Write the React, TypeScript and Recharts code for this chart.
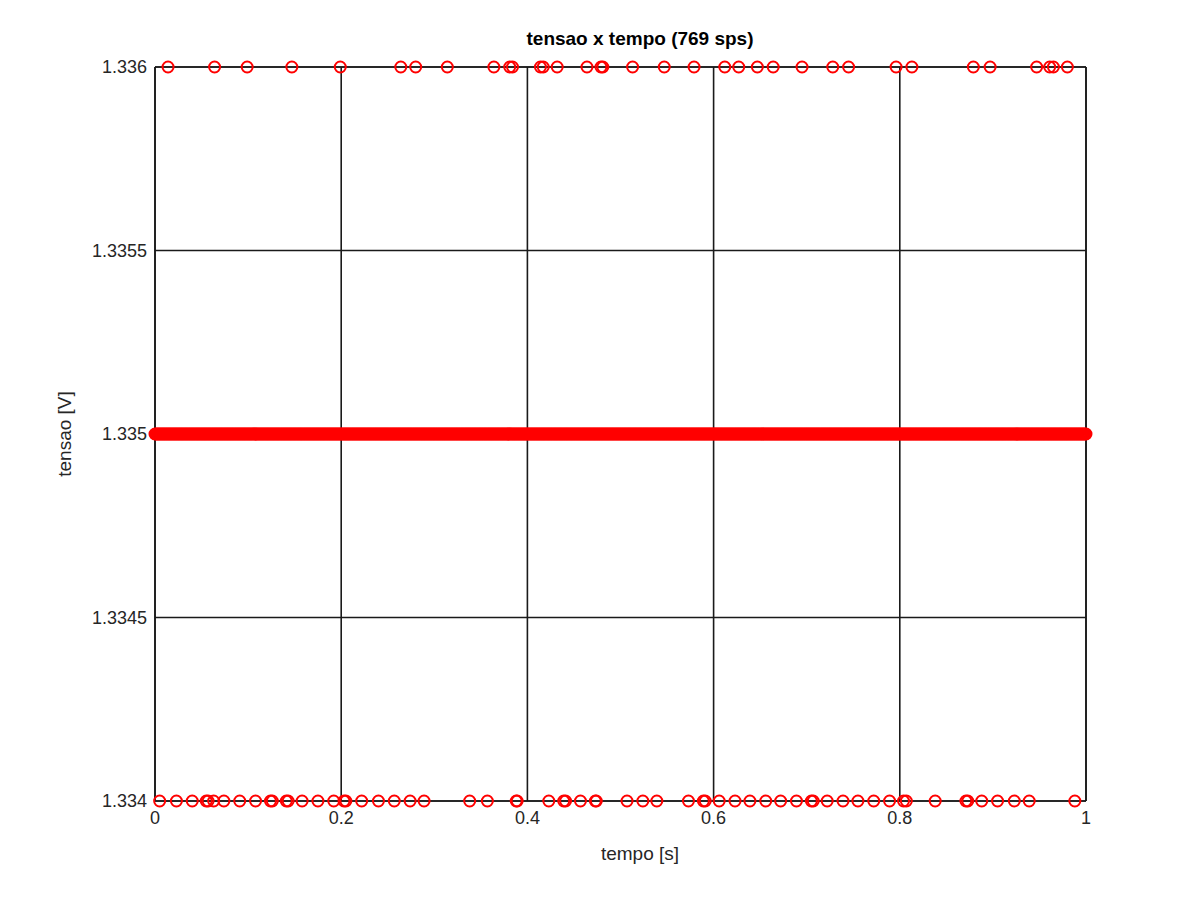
import { ScatterChart, Scatter, XAxis, YAxis, CartesianGrid, ReferenceLine } from 'recharts'

const SAMPLE_RATE = 769
const LEVEL_MID = 1.335
const LEVEL_HIGH = 1.336
const LEVEL_LOW = 1.334

// instants where the reading jumped to 1.336 V
const HIGH_TIMES = [
  0.014, 0.064, 0.099, 0.147, 0.199, 0.264, 0.28, 0.314, 0.364, 0.381, 0.384, 0.414, 0.417, 0.432,
  0.464, 0.479, 0.481, 0.513, 0.547, 0.579, 0.612, 0.627, 0.647, 0.664, 0.695, 0.728, 0.745, 0.796,
  0.813, 0.879, 0.897, 0.947, 0.961, 0.965, 0.98,
]
// instants where the reading dropped to 1.334 V
const LOW_TIMES = [
  0.005, 0.023, 0.04, 0.055, 0.057, 0.063, 0.074, 0.091, 0.108, 0.124, 0.126, 0.141, 0.143, 0.158,
  0.175, 0.192, 0.203, 0.205, 0.222, 0.24, 0.257, 0.274, 0.289, 0.338, 0.357, 0.388, 0.389, 0.423,
  0.439, 0.441, 0.457, 0.473, 0.474, 0.507, 0.524, 0.539, 0.573, 0.589, 0.591, 0.606, 0.623, 0.639,
  0.656, 0.672, 0.689, 0.705, 0.707, 0.722, 0.739, 0.755, 0.772, 0.789, 0.804, 0.807, 0.838, 0.871,
  0.873, 0.888, 0.905, 0.923, 0.939, 0.988,
]
const X_TICKS = [0, 0.2, 0.4, 0.6, 0.8, 1]
const Y_TICKS = [1.334, 1.3345, 1.335, 1.3355, 1.336]

// sample clock: one reading every 1/769 s
const sampleTimes = Array.from({ length: SAMPLE_RATE + 1 }, (_, i) => i / SAMPLE_RATE)

const midData = sampleTimes.map((t) => ({ t, v: LEVEL_MID }))
const highData = HIGH_TIMES.map((t) => ({ t, v: LEVEL_HIGH }))
const lowData = LOW_TIMES.map((t) => ({ t, v: LEVEL_LOW }))

const RED = '#ff0000'
const INK = '#1a1a1a'
const FONT = 'Liberation Sans, Arial, sans-serif'

const Ring = (props: any) => (
  <circle cx={props.cx} cy={props.cy} r={5.5} fill="none" stroke={RED} strokeWidth={2} />
)

export default function App() {
  return (
    <div style={{ position: 'absolute', left: 0, top: 0, width: 1200, height: 900, background: '#fff', fontFamily: FONT }}>
      <div style={{ position: 'absolute', top: 28, width: 1200, textAlign: 'center', fontWeight: 'bold', fontSize: 19, paddingLeft: 40 }}>
        tensao x tempo (769 sps)
      </div>
      <div
        style={{ position: 'absolute', left: 65, top: 434, transform: 'translate(-50%, -50%) rotate(-90deg)', fontSize: 19, color: '#262626' }}
      >
        tensao [V]
      </div>
      <div style={{ position: 'absolute', top: 843, width: 1200, paddingLeft: 40, textAlign: 'center', fontSize: 19, color: '#262626' }}>
        tempo [s]
      </div>
      <ScatterChart width={1200} height={900} margin={{ top: 67, right: 114, bottom: 69, left: 75 }}>
        <CartesianGrid stroke={INK} strokeWidth={1.6} />
        <XAxis
          type="number"
          dataKey="t"
          domain={[0, 1]}
          ticks={X_TICKS}
          height={30}
          stroke={INK}
          strokeWidth={1.6}
          tickSize={0}
          tickMargin={10}
          tick={{ fill: '#262626', fontSize: 18, fontFamily: FONT }}
        />
        <YAxis
          type="number"
          dataKey="v"
          domain={[LEVEL_LOW, LEVEL_HIGH]}
          ticks={Y_TICKS}
          width={80}
          stroke={INK}
          strokeWidth={1.6}
          tickSize={0}
          tickMargin={8}
          tick={{ fill: '#262626', fontSize: 18, fontFamily: FONT }}
        />
        <ReferenceLine y={LEVEL_HIGH} stroke={INK} strokeWidth={1.6} />
        <ReferenceLine x={1} stroke={INK} strokeWidth={1.6} />
        <Scatter data={midData} shape={Ring} isAnimationActive={false} />
        <Scatter data={highData} shape={Ring} isAnimationActive={false} />
        <Scatter data={lowData} shape={Ring} isAnimationActive={false} />
      </ScatterChart>
    </div>
  )
}
